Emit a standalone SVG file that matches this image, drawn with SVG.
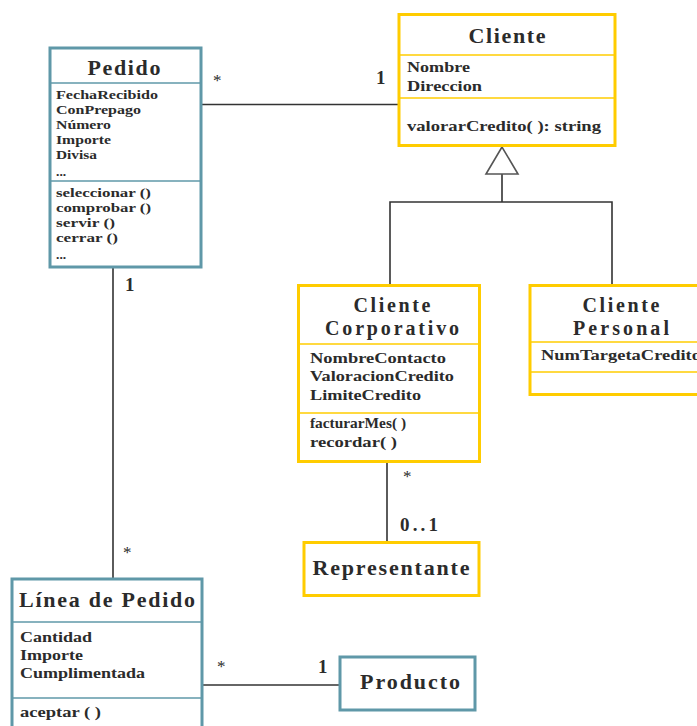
<svg xmlns="http://www.w3.org/2000/svg" width="697" height="726" viewBox="0 0 697 726">
  <style>
    .teal { fill: #ffffff; stroke: #5f98a8; stroke-width: 3; }
    .gold { fill: #ffffff; stroke: #ffcc00; stroke-width: 3; }
    .sepT { stroke: #5f98a8; stroke-width: 1.5; }
    .sepG { stroke: #ffcc00; stroke-width: 1.5; }
    text { font-family: "Liberation Serif", "Times New Roman", serif; font-weight: bold; fill: #2b2b2b; }
    .title { font-size: 22px; text-anchor: middle; }
    .title2 { font-size: 20px; text-anchor: middle; }
    .attr { font-size: 15px; }
    .small { font-size: 13.5px; }
    .conn { stroke: #333333; stroke-width: 1.6; fill: none; }
    .mult { font-size: 19px; }
    .star { font-size: 17px; font-weight: normal; }
  </style>

  <!-- Associations and generalization -->
  <g id="connectors">
    <line class="conn" x1="201" y1="104.5" x2="399" y2="104.5"/>
    <line class="conn" x1="113" y1="267" x2="113" y2="579"/>
    <line class="conn" x1="387" y1="462" x2="387" y2="542"/>
    <line class="conn" x1="202" y1="685" x2="340" y2="685"/>
    <line class="conn" x1="502" y1="174" x2="502" y2="202"/>
    <polyline class="conn" points="390,285 390,202 612,202 612,285"/>
    <polygon points="502,147 486,174 518,174" fill="#ffffff" stroke="#555555" stroke-width="1.6"/>
    <text class="star" x="213" y="86">*</text>
    <text class="mult" x="376" y="84">1</text>
    <text class="mult" x="125" y="291">1</text>
    <text class="star" x="123" y="558">*</text>
    <text class="star" x="403" y="482">*</text>
    <text class="mult" x="400" y="531" textLength="38" lengthAdjust="spacing">0..1</text>
    <text class="star" x="217" y="672">*</text>
    <text class="mult" x="318" y="673">1</text>
  </g>

  <g id="pedido">
    <rect class="teal" x="50" y="48" width="151" height="219"/>
    <line class="sepT" x1="50" y1="83" x2="201" y2="83"/>
    <line class="sepT" x1="50" y1="181" x2="201" y2="181"/>
    <text class="title" x="124" y="75" textLength="73" lengthAdjust="spacing">Pedido</text>
    <text class="small" x="56" y="99" textLength="102" lengthAdjust="spacingAndGlyphs">FechaRecibido</text>
    <text class="small" x="56" y="114" textLength="85" lengthAdjust="spacingAndGlyphs">ConPrepago</text>
    <text class="small" x="56" y="129" textLength="55" lengthAdjust="spacingAndGlyphs">Número</text>
    <text class="small" x="56" y="144" textLength="55" lengthAdjust="spacingAndGlyphs">Importe</text>
    <text class="small" x="56" y="159" textLength="41" lengthAdjust="spacingAndGlyphs">Divisa</text>
    <text class="small" x="56" y="176" font-size="10">...</text>
    <text class="small" x="56" y="197" textLength="95" lengthAdjust="spacingAndGlyphs">seleccionar ()</text>
    <text class="small" x="56" y="212" textLength="95" lengthAdjust="spacingAndGlyphs">comprobar ()</text>
    <text class="small" x="56" y="227" textLength="59" lengthAdjust="spacingAndGlyphs">servir ()</text>
    <text class="small" x="56" y="242" textLength="62" lengthAdjust="spacingAndGlyphs">cerrar ()</text>
    <text class="small" x="56" y="259" font-size="10">...</text>
  </g>

  <g id="cliente">
    <rect class="gold" x="399" y="14.5" width="216" height="131"/>
    <line class="sepG" x1="399" y1="55" x2="615" y2="55"/>
    <line class="sepG" x1="399" y1="98" x2="615" y2="98"/>
    <text class="title" x="507" y="43" textLength="77" lengthAdjust="spacing">Cliente</text>
    <text class="attr" x="407" y="72" textLength="63" lengthAdjust="spacingAndGlyphs">Nombre</text>
    <text class="attr" x="407" y="91" textLength="75" lengthAdjust="spacingAndGlyphs">Direccion</text>
    <text class="attr" x="407" y="131" textLength="194" lengthAdjust="spacingAndGlyphs">valorarCredito( ): string</text>
  </g>

  <g id="cliente-corporativo">
    <rect class="gold" x="298.5" y="285.5" width="181" height="176"/>
    <line class="sepG" x1="298.5" y1="344" x2="479.5" y2="344"/>
    <line class="sepG" x1="298.5" y1="413" x2="479.5" y2="413"/>
    <text class="title2" x="392" y="312" textLength="77" lengthAdjust="spacing">Cliente</text>
    <text class="title2" x="392" y="335" textLength="134" lengthAdjust="spacing">Corporativo</text>
    <text class="attr" x="310" y="363" textLength="136" lengthAdjust="spacingAndGlyphs">NombreContacto</text>
    <text class="attr" x="310" y="381" textLength="144" lengthAdjust="spacingAndGlyphs">ValoracionCredito</text>
    <text class="attr" x="310" y="400" textLength="111" lengthAdjust="spacingAndGlyphs">LimiteCredito</text>
    <text class="attr" x="310" y="428" textLength="96" lengthAdjust="spacingAndGlyphs">facturarMes( )</text>
    <text class="attr" x="310" y="447" textLength="87" lengthAdjust="spacingAndGlyphs">recordar( )</text>
  </g>

  <g id="cliente-personal">
    <rect class="gold" x="530" y="285.5" width="185" height="109"/>
    <line class="sepG" x1="530" y1="342" x2="715" y2="342"/>
    <line class="sepG" x1="530" y1="372" x2="715" y2="372"/>
    <text class="title2" x="621" y="312" textLength="77" lengthAdjust="spacing">Cliente</text>
    <text class="title2" x="621" y="335" textLength="96" lengthAdjust="spacing">Personal</text>
    <text class="attr" x="541" y="360" textLength="160" lengthAdjust="spacingAndGlyphs">NumTargetaCredito</text>
  </g>

  <g id="representante">
    <rect class="gold" x="304" y="542.5" width="175" height="53"/>
    <text class="title" x="391" y="575" font-size="21" textLength="157" lengthAdjust="spacing">Representante</text>
  </g>

  <g id="linea-de-pedido">
    <rect class="teal" x="12" y="579" width="190" height="160"/>
    <line class="sepT" x1="12" y1="622" x2="202" y2="622"/>
    <line class="sepT" x1="12" y1="698" x2="202" y2="698"/>
    <text class="title" x="107" y="607" textLength="176" lengthAdjust="spacing">Línea de Pedido</text>
    <text class="attr" x="20" y="642" textLength="72" lengthAdjust="spacingAndGlyphs">Cantidad</text>
    <text class="attr" x="20" y="660" textLength="63" lengthAdjust="spacingAndGlyphs">Importe</text>
    <text class="attr" x="20" y="678" textLength="125" lengthAdjust="spacingAndGlyphs">Cumplimentada</text>
    <text class="attr" x="20" y="717" textLength="81" lengthAdjust="spacingAndGlyphs">aceptar ( )</text>
  </g>

  <g id="producto">
    <rect class="teal" x="340" y="657" width="135" height="53"/>
    <text class="title" x="410" y="689" font-size="21" textLength="100" lengthAdjust="spacing">Producto</text>
  </g>
</svg>
